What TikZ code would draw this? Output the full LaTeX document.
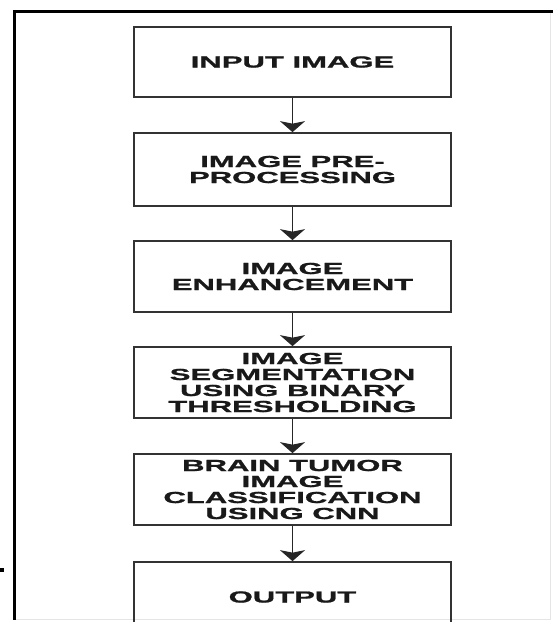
\documentclass[tikz,border=0pt]{standalone}
\usepackage{fontspec}
\newfontfamily\boxfont[FakeStretch=1.94, BoldFeatures={FakeBold=1.3}]{Liberation Sans}
\usetikzlibrary{arrows.meta}
\tikzset{
  stepbox/.style={draw=black!80, line width=1.7pt, minimum width=317pt, minimum height=71pt,
    inner sep=0pt, align=center, text=black!90,
    font=\boxfont\bfseries\fontsize{16}{16}\selectfont},
  flow/.style={draw=black!85, line width=1.9pt,
    -{Stealth[width=25pt,length=11pt,inset=2.5pt]}},
  frameline/.style={draw=black, line width=2.6pt},
  faintline/.style={draw=black!10, line width=1pt}
}
\begin{document}
\begin{tikzpicture}[x=1pt,y=-1pt]
\useasboundingbox (0,0) rectangle (553,622);
\clip (0,0) rectangle (553,622);
% outer frame
\draw[faintline] (550,11.5) -- (550,619) -- (14.5,619);
\draw[frameline] (13.2,11.5) -- (553,11.5);
\draw[frameline] (14.5,10.2) -- (14.5,620);
\fill[black] (0,568) rectangle (4,572);
% boxes
\node[stepbox, minimum height=70pt] (b1) at (292.5,62) {INPUT IMAGE};
\node[stepbox, minimum height=73pt] (b2) at (292.5,169.5) {IMAGE PRE-\\PROCESSING};
\node[stepbox] (b3) at (292.5,276.5) {IMAGE\\ENHANCEMENT};
\node[stepbox] (b4) at (292.5,382.5) {IMAGE\\SEGMENTATION\\USING BINARY\\THRESHOLDING};
\node[stepbox] (b5) at (292.5,489.5) {BRAIN TUMOR\\IMAGE\\CLASSIFICATION\\USING CNN};
\node[stepbox, minimum height=70pt] (b6) at (292.5,597) {OUTPUT};
% connectors
\draw[flow] (b1) -- (b2);
\draw[flow] (b2) -- (b3);
\draw[flow] (b3) -- (b4);
\draw[flow] (b4) -- (b5);
\draw[flow] (b5) -- (b6);
\end{tikzpicture}
\end{document}
